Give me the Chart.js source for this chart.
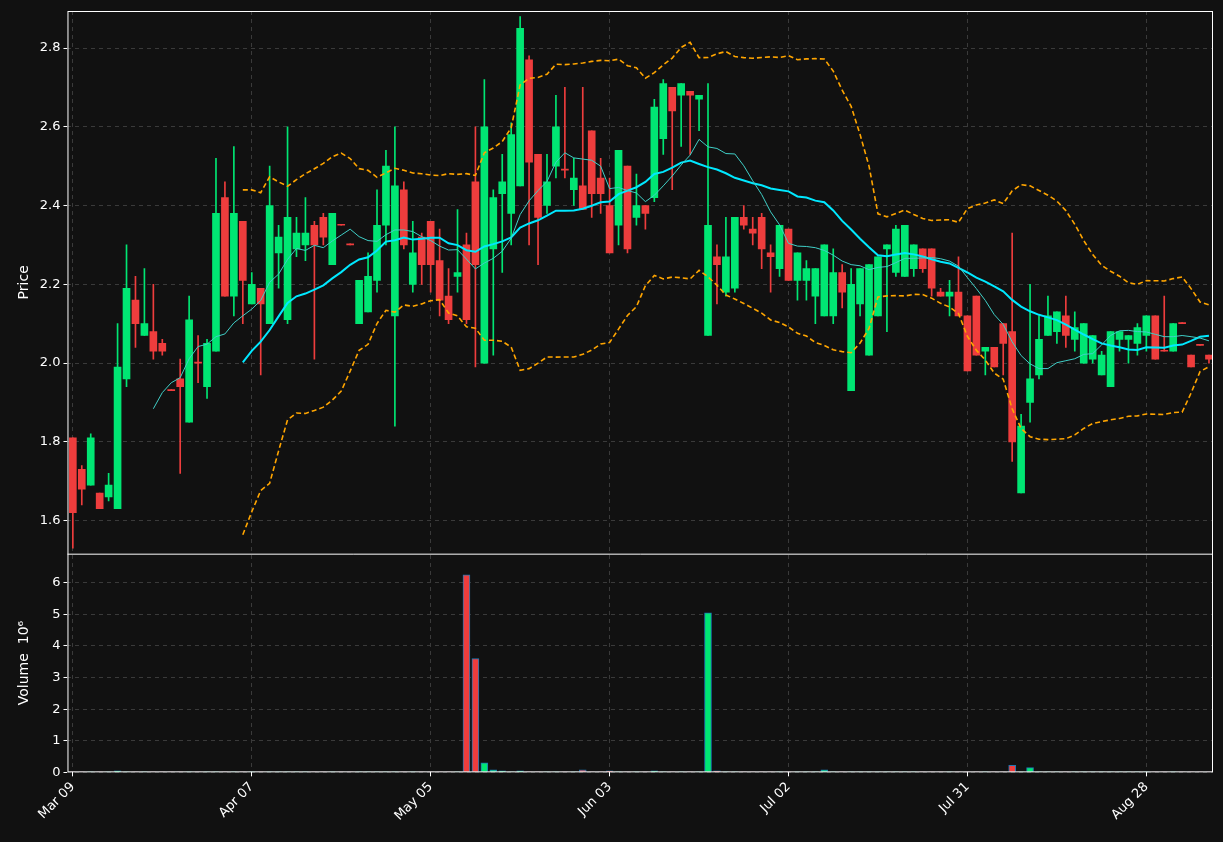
<!DOCTYPE html>
<html><head><meta charset="utf-8">
<script src="https://cdn.jsdelivr.net/npm/chart.js@4.4.1/dist/chart.umd.min.js"></script>
<style>html,body{margin:0;background:#111111;}#w{width:1223px;height:842px;}</style>
</head><body><div id="w"><canvas id="c"></canvas></div>
<script>
const tickLabels = {0:"Mar 09",20:"Apr 07",40:"May 05",60:"Jun 03",80:"Jul 02",100:"Jul 31",120:"Aug 28"};
const opens =[1.81,1.73,1.69,1.67,1.66,1.63,1.96,2.16,2.07,2.08,2.05,1.93,1.96,1.85,2.00,1.94,2.03,2.42,2.17,2.36,
2.15,2.19,2.10,2.28,2.11,2.29,2.30,2.35,2.37,2.25,2.35,2.30,2.10,2.13,2.21,2.35,2.12,2.44,2.20,2.32,
2.36,2.26,2.17,2.22,2.30,2.46,2.00,2.29,2.43,2.38,2.45,2.77,2.53,2.40,2.50,2.49,2.44,2.45,2.59,2.47,
2.40,2.35,2.50,2.37,2.40,2.42,2.57,2.70,2.68,2.69,2.67,2.07,2.27,2.18,2.19,2.37,2.34,2.37,2.28,2.24,
2.34,2.21,2.21,2.17,2.12,2.12,2.23,1.93,2.15,2.02,2.12,2.29,2.23,2.22,2.24,2.29,2.29,2.18,2.17,2.18,
2.12,2.17,2.03,2.04,2.10,2.08,1.67,1.90,1.97,2.07,2.08,2.12,2.06,2.00,2.01,1.97,1.94,2.06,2.06,2.05,
2.07,2.12,2.03,2.03,2.10,2.02,2.045,2.02];
const highs =[1.81,1.74,1.82,1.67,1.72,2.10,2.30,2.22,2.24,2.20,2.06,1.93,2.01,2.17,2.07,2.06,2.52,2.46,2.55,2.36,
2.23,2.19,2.50,2.35,2.60,2.37,2.42,2.36,2.38,2.38,2.35,2.30,2.21,2.28,2.44,2.54,2.60,2.46,2.36,2.33,
2.36,2.34,2.24,2.39,2.33,2.60,2.72,2.44,2.53,2.61,2.88,2.78,2.53,2.53,2.68,2.70,2.52,2.70,2.59,2.52,
2.47,2.54,2.50,2.48,2.40,2.67,2.72,2.70,2.71,2.69,2.68,2.71,2.30,2.37,2.37,2.40,2.37,2.38,2.30,2.35,
2.34,2.28,2.26,2.24,2.30,2.29,2.25,2.24,2.24,2.25,2.27,2.30,2.35,2.35,2.30,2.29,2.29,2.19,2.21,2.27,
2.12,2.17,2.04,2.04,2.10,2.33,1.87,2.20,2.12,2.17,2.13,2.17,2.13,2.10,2.07,2.03,2.08,2.08,2.07,2.10,
2.12,2.12,2.17,2.10,2.10,2.02,2.045,2.02];
const lows  =[1.53,1.64,1.69,1.63,1.65,1.63,1.94,2.04,2.07,2.01,2.02,1.93,1.72,1.85,1.95,1.91,2.03,2.17,2.12,2.10,
2.15,1.97,2.10,2.19,2.10,2.27,2.26,2.01,2.30,2.25,2.35,2.30,2.10,2.13,2.18,2.30,1.84,2.29,2.18,2.20,
2.18,2.12,2.10,2.18,2.10,1.99,2.00,2.02,2.23,2.30,2.45,2.30,2.25,2.38,2.47,2.47,2.40,2.39,2.37,2.38,
2.28,2.30,2.28,2.35,2.34,2.41,2.53,2.44,2.55,2.53,2.59,2.07,2.15,2.17,2.18,2.34,2.30,2.24,2.18,2.22,
2.21,2.16,2.16,2.10,2.12,2.10,2.14,1.93,2.12,2.02,2.12,2.08,2.22,2.22,2.22,2.23,2.17,2.17,2.12,2.12,
1.98,2.02,1.97,1.99,1.97,1.75,1.67,1.85,1.96,2.07,2.05,2.04,2.03,2.00,2.00,1.97,1.94,2.03,2.00,2.02,
2.03,2.01,2.03,2.03,2.10,1.99,2.045,2.00];
const closes=[1.62,1.68,1.81,1.63,1.69,1.99,2.19,2.10,2.10,2.03,2.03,1.93,1.94,2.11,2.00,2.05,2.38,2.17,2.38,2.21,
2.20,2.15,2.40,2.32,2.37,2.33,2.33,2.30,2.32,2.38,2.35,2.30,2.21,2.22,2.35,2.50,2.45,2.30,2.28,2.25,
2.25,2.16,2.11,2.23,2.11,2.25,2.60,2.42,2.46,2.58,2.85,2.51,2.37,2.46,2.60,2.49,2.47,2.39,2.43,2.43,
2.28,2.54,2.29,2.40,2.38,2.65,2.71,2.64,2.71,2.68,2.68,2.35,2.25,2.27,2.37,2.35,2.33,2.29,2.27,2.35,
2.21,2.28,2.24,2.24,2.30,2.23,2.18,2.20,2.24,2.25,2.27,2.30,2.34,2.35,2.30,2.24,2.19,2.17,2.18,2.12,
1.98,2.02,2.04,1.99,2.05,1.80,1.84,1.96,2.06,2.12,2.13,2.07,2.09,2.10,2.07,2.02,2.08,2.08,2.07,2.09,
2.12,2.01,2.03,2.10,2.10,1.99,2.045,2.01];
const volumes=[0.01,0.01,0.01,0.01,0.01,0.05,0.01,0.01,0.01,0.01,0.01,0.01,0.01,0.01,0.01,0.01,0.01,0.01,0.01,0.01,
0.01,0.01,0.01,0.01,0.01,0.01,0.01,0.01,0.01,0.01,0.01,0.01,0.01,0.01,0.01,0.01,0.01,0.01,0.01,0.01,
0.01,0.01,0.01,0.01,6.25,3.6,0.3,0.08,0.05,0.02,0.05,0.02,0.01,0.01,0.01,0.01,0.01,0.08,0.02,0.01,
0.05,0.01,0.01,0.01,0.01,0.05,0.01,0.02,0.01,0.01,0.01,5.05,0.05,0.01,0.02,0.01,0.01,0.01,0.01,0.01,
0.01,0.01,0.01,0.01,0.08,0.01,0.01,0.01,0.01,0.01,0.01,0.01,0.01,0.01,0.01,0.01,0.01,0.01,0.01,0.01,
0.01,0.01,0.01,0.01,0.01,0.22,0.01,0.15,0.01,0.01,0.01,0.01,0.01,0.01,0.01,0.01,0.01,0.01,0.01,0.01,
0.01,0.01,0.01,0.01,0.01,0.01,0.01,0.01];

const UP='#00e673', DN='#ee3d3d';
const idx = closes.map((_,i)=>i);
const isUp = closes.map((c,i)=>c>opens[i]);
const col = isUp.map(u=>u?UP:DN);
function sma(n){return closes.map((_,i)=>i<n-1?null:closes.slice(i-n+1,i+1).reduce((a,b)=>a+b,0)/n);}
const ma10=sma(10), ma20=sma(20);
const bbU=[],bbL=[];
closes.forEach((_,i)=>{ if(i<19){bbU.push(null);bbL.push(null);return;}
  const s=closes.slice(i-19,i+1), m=ma20[i]; const sd=Math.sqrt(s.reduce((a,b)=>a+(b-m)*(b-m),0)/20);
  bbU.push(m+2*sd); bbL.push(m-2*sd);});
const pts=a=>a.map((v,i)=>({x:i,y:v}));

const frame={id:'frame',afterDraw(ch){const a=ch.chartArea,c=ch.ctx,yp=ch.scales.y;
  c.save();c.strokeStyle='#ffffff';c.lineWidth=1;c.strokeRect(a.left+0.5,a.top+0.5,a.right-a.left-1,a.bottom-a.top-1);
  c.beginPath();c.moveTo(a.left,yp.bottom+0.5);c.lineTo(a.right,yp.bottom+0.5);c.stroke();c.restore();}};

const grid={color:'#3a3a3a',drawTicks:true,tickColor:'#ffffff',tickLength:4,offset:false};
const bord={display:false,dash:[4,4]};
const F={family:'DejaVu Sans',size:13};
new Chart(document.getElementById('c'),{
  type:'bar',
  data:{datasets:[
    {type:'line',data:pts(ma10),borderColor:'#40d0c8',borderWidth:1,pointRadius:0,yAxisID:'y',order:1},
    {type:'line',data:pts(ma20),borderColor:'#00e8ff',borderWidth:2,pointRadius:0,yAxisID:'y',order:1},
    {type:'line',data:pts(bbU),borderColor:'#ffa500',borderWidth:1.6,borderDash:[5,3],pointRadius:0,yAxisID:'y',order:1},
    {type:'line',data:pts(bbL),borderColor:'#ffa500',borderWidth:1.6,borderDash:[5,3],pointRadius:0,yAxisID:'y',order:1},
    {data:idx.map(i=>({x:i,y:[lows[i],highs[i]]})),backgroundColor:col,barThickness:1,minBarLength:1,yAxisID:'y',grouped:false,order:3},
    {data:idx.map(i=>({x:i,y:[opens[i],closes[i]]})),backgroundColor:col,barThickness:7,minBarLength:1,yAxisID:'y',grouped:false,order:2},
    {data:idx.map(i=>({x:i,y:volumes[i]})),backgroundColor:col,borderColor:'#1f77b4',borderWidth:1,barThickness:7,yAxisID:'v',grouped:false,order:2}
  ]},
  options:{animation:false,responsive:true,maintainAspectRatio:false,
    layout:{padding:{left:12,right:10,top:11,bottom:15}},
    plugins:{legend:{display:false},tooltip:{enabled:false}},
    scales:{
      v:{type:'linear',position:'left',stack:'s',stackWeight:218,min:0,max:6.92,grid:grid,border:bord,
        afterBuildTicks(s){s.ticks=[0,1,2,3,4,5,6].map(v=>({value:v}));},
        ticks:{color:'#ffffff',font:F},
        title:{display:true,text:'Volume  10⁶',color:'#ffffff',font:{family:'DejaVu Sans',size:14}}},
      y:{type:'linear',position:'left',stack:'s',stackWeight:541,min:1.516,max:2.894,grid:grid,border:bord,
        afterBuildTicks(s){s.ticks=[1.6,1.8,2.0,2.2,2.4,2.6,2.8].map(v=>({value:v}));},
        ticks:{color:'#ffffff',font:F,callback:v=>v.toFixed(1)},
        title:{display:true,text:'Price',color:'#ffffff',font:{family:'DejaVu Sans',size:14}}},
      x:{type:'linear',offset:false,min:-0.6,max:127.45,grid:grid,border:bord,
        afterBuildTicks(s){s.ticks=Object.keys(tickLabels).map(k=>({value:+k}));},
        ticks:{color:'#ffffff',font:F,maxRotation:45,minRotation:45,autoSkip:false,
          callback:v=>tickLabels[v]||''}}
    }},
  plugins:[frame]
});
</script></body></html>
